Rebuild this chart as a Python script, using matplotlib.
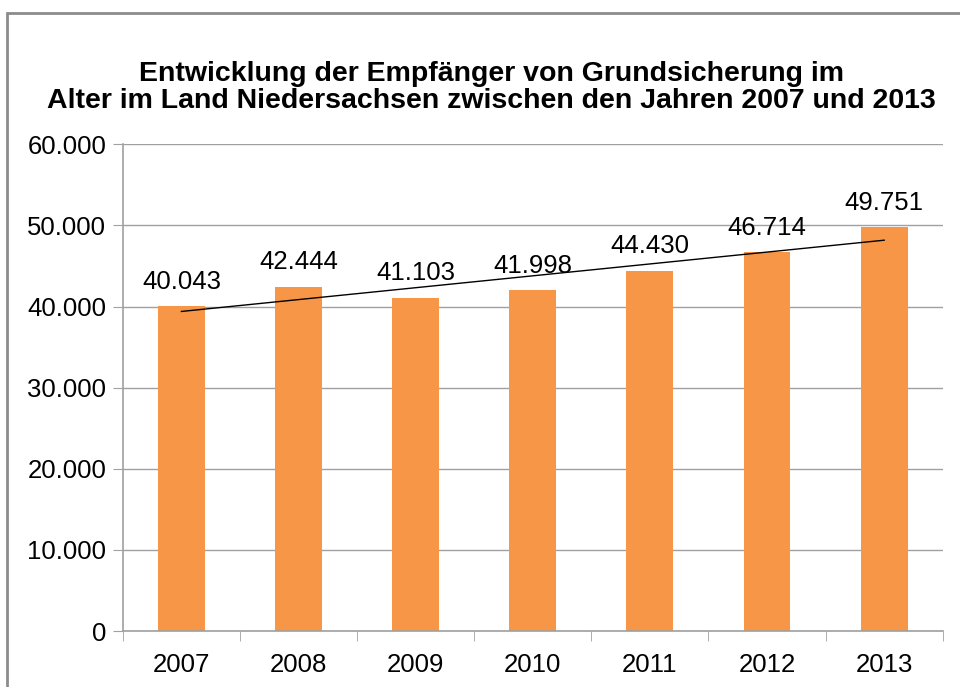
import numpy as np
import matplotlib.pyplot as plt
from matplotlib.patches import Rectangle
from matplotlib.ticker import FuncFormatter

plt.rcParams['font.family'] = ['Liberation Sans', 'DejaVu Sans']

jahre = ['2007', '2008', '2009', '2010', '2011', '2012', '2013']
empfaenger = [40043, 42444, 41103, 41998, 44430, 46714, 49751]
y_ticks = [0, 10000, 20000, 30000, 40000, 50000, 60000]

def de_format(v, pos=None):
    return f"{int(v):,}".replace(",", ".")

fig = plt.figure(figsize=(9.6, 6.87), dpi=100)
ax = fig.add_axes([0.128, 0.0815, 0.854, 0.7085])

x = np.arange(len(jahre))
ax.bar(x, empfaenger, width=0.4, color='#f79646', zorder=2)

# lineare Trendlinie
k, d = np.polyfit(x, empfaenger, 1)
ax.plot(x, k * x + d, color='black', linewidth=1, zorder=3)

for xi, v in zip(x, empfaenger):
    ax.annotate(de_format(v), (xi, v), xytext=(0, 9), textcoords='offset points',
                ha='center', va='bottom', fontsize=18.5, zorder=4)

ax.set_xlim(-0.5, len(jahre) - 0.5)
ax.set_ylim(0, 60000)
ax.set_yticks(y_ticks)
ax.yaxis.set_major_formatter(FuncFormatter(de_format))
ax.set_xticks(x)
ax.set_xticklabels(jahre)
ax.set_xticks(np.arange(-0.5, len(jahre)), minor=True)
ax.tick_params(axis='x', which='major', length=0, labelsize=18.5, pad=16)
ax.tick_params(axis='x', which='minor', length=7, color='#a0a0a0', direction='out')
ax.tick_params(axis='y', length=7, color='#a0a0a0', labelsize=18.5, pad=5)

ax.grid(axis='y', color='#a0a0a0', linewidth=1, zorder=0)
ax.set_axisbelow(True)
for s in ['top', 'right']:
    ax.spines[s].set_visible(False)
for s in ['left', 'bottom']:
    ax.spines[s].set_color('#a0a0a0')
    ax.spines[s].set_linewidth(1.2)

fig.text(0.512, 0.873, "Entwicklung der Empfänger von Grundsicherung im\n"
         "Alter im Land Niedersachsen zwischen den Jahren 2007 und 2013",
         ha='center', va='center', fontsize=20.5, fontweight='bold', linespacing=1.05)

# Rahmen des Diagrammbereichs
fig.patches.append(Rectangle((7 / 960, -0.05), 1.1, 1.05 - 13 / 687,
                             transform=fig.transFigure, fill=False,
                             edgecolor='#8c8c8c', linewidth=2))

fig.savefig('out.png', dpi=100)
